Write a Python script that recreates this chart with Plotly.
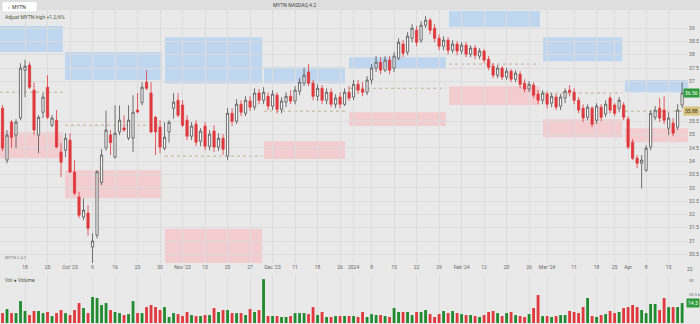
import plotly.graph_objects as go

# ---------------- data ----------------
opens = [35.99,34.04,35.47,34.98,35.62,37.42,37.61,36.67,34.98,35.84,
         36.78,35.35,35.54,34.34,34.41,34.79,33.59,32.65,31.90,32.05,
         30.77,31.22,33.20,34.50,34.98,34.15,35.10,35.25,34.87,34.87,
         35.92,36.20,36.97,36.56,35.65,35.28,34.49,35.10,35.99,36.29,
         36.11,35.54,34.94,35.39,34.75,35.32,34.56,35.13,34.53,34.86,
         34.19,35.80,35.50,36.14,35.80,36.26,36.03,36.56,36.29,36.44,
         36.07,36.48,35.95,36.22,36.44,36.26,36.63,36.93,37.35,36.93,
         36.44,36.74,36.29,36.59,36.14,36.41,36.14,36.59,36.41,36.89,
         36.71,36.59,37.05,37.50,37.72,37.42,37.80,37.50,37.87,38.40,
         38.10,38.62,38.92,38.55,39.11,39.30,39.00,38.62,38.32,38.55,
         38.17,38.40,38.14,38.36,38.02,38.25,37.95,38.14,37.83,37.57,
         37.23,37.50,37.16,37.38,37.08,37.27,36.93,36.71,36.86,36.52,
         36.29,36.52,36.18,36.41,36.07,36.37,36.67,36.59,36.29,35.99,
         35.65,35.99,35.54,36.03,35.77,36.37,36.11,35.99,36.11,35.58,
         34.71,34.11,33.92,33.66,34.53,35.65,35.99,35.92,35.24,35.43,
         35.28,36.11]
highs = [36.11,35.17,35.54,35.58,37.68,37.80,37.72,36.97,35.73,36.56,
         37.23,35.73,35.92,34.68,35.05,35.05,34.04,32.84,32.60,32.35,
         31.29,33.66,34.45,35.90,35.17,36.10,36.10,35.73,36.10,36.48,
         36.56,36.97,37.42,36.97,35.70,35.54,35.46,35.54,36.56,36.56,
         36.29,35.73,35.47,35.54,35.24,35.47,35.17,35.35,35.05,35.02,
         35.99,35.99,36.33,36.29,36.44,36.44,36.74,36.71,36.78,36.59,
         36.67,36.59,36.41,36.59,36.67,36.82,37.12,37.50,37.65,37.05,
         36.89,36.86,36.74,36.74,36.52,36.59,36.74,36.82,37.05,37.05,
         36.97,37.20,37.65,37.95,37.91,37.95,37.95,38.10,38.62,38.55,
         38.85,39.15,39.08,39.26,39.45,39.38,39.15,38.77,38.70,38.66,
         38.55,38.51,38.47,38.47,38.36,38.36,38.25,38.21,37.95,37.68,
         37.61,37.57,37.50,37.46,37.42,37.38,37.08,37.01,36.97,36.67,
         36.67,36.63,36.56,36.52,36.52,36.74,36.86,36.74,36.41,36.14,
         36.14,36.07,36.18,36.14,36.29,36.48,36.18,36.41,36.22,35.69,
         34.83,34.23,34.23,34.60,35.92,36.07,36.37,36.44,35.84,35.62,
         36.14,36.97]
lows = [34.38,33.92,34.49,34.49,35.54,36.41,36.71,34.98,34.30,35.62,
        35.58,35.28,34.49,33.40,34.15,33.55,32.72,31.86,31.78,31.20,
        30.10,31.10,33.10,34.40,34.23,34.10,34.98,35.10,34.79,34.34,
        35.80,36.10,36.67,35.05,34.23,34.30,34.41,34.70,35.60,35.65,
        35.28,34.79,34.79,34.56,34.56,34.41,34.41,34.34,34.38,34.23,
        34.04,35.32,35.39,35.69,35.69,35.88,35.92,36.14,36.14,35.92,
        35.92,35.80,35.80,36.03,36.14,36.14,36.48,36.82,36.82,36.29,
        36.26,36.14,36.14,36.03,35.99,35.99,36.07,36.26,36.29,36.52,
        36.44,36.48,36.89,37.35,37.27,37.35,37.27,37.35,37.80,37.91,
        37.98,38.47,38.32,38.44,39.00,38.77,38.47,38.17,38.17,38.02,
        38.06,37.98,38.02,37.91,37.91,37.83,37.83,37.68,37.42,37.12,
        37.12,37.05,37.05,36.97,36.97,36.74,36.59,36.59,36.37,36.14,
        36.14,35.99,36.03,35.92,35.92,36.18,36.44,36.14,35.80,35.47,
        35.54,35.28,35.39,35.50,35.65,35.80,35.69,35.84,35.54,34.45,
        34.04,33.74,32.98,33.59,34.41,35.54,35.47,35.39,34.98,34.94,
        35.17,35.99]
closes = [34.49,34.98,34.90,35.47,37.50,37.57,36.78,35.17,35.65,36.41,
          35.65,35.62,34.53,33.96,34.86,33.59,32.80,31.97,32.16,31.48,
          31.00,33.60,34.23,35.17,34.70,35.05,35.54,35.17,35.54,35.84,
          35.85,36.78,36.74,35.10,35.10,34.53,34.90,35.46,36.22,35.73,
          35.35,34.94,35.32,34.71,35.13,34.56,35.02,34.53,34.86,34.45,
          35.80,35.50,36.14,35.84,36.29,36.03,36.56,36.29,36.59,36.07,
          36.52,35.95,36.26,36.44,36.26,36.67,36.97,37.23,36.93,36.44,
          36.74,36.29,36.59,36.14,36.37,36.14,36.59,36.37,36.89,36.67,
          36.59,37.05,37.50,37.72,37.42,37.80,37.42,37.95,38.47,38.06,
          38.70,39.00,38.47,39.11,39.30,38.92,38.62,38.32,38.55,38.17,
          38.40,38.14,38.36,38.02,38.25,37.98,38.14,37.80,37.53,37.23,
          37.50,37.16,37.38,37.08,37.31,36.89,36.71,36.89,36.48,36.29,
          36.56,36.14,36.44,36.03,36.41,36.63,36.59,36.29,35.92,35.62,
          36.03,35.39,36.07,35.65,36.14,35.92,35.80,36.29,35.65,34.53,
          34.11,33.92,34.04,34.49,35.80,35.92,35.62,35.54,35.62,35.05,
          35.92,36.56]
volumes = [7.1,10.0,7.1,7.1,15.7,8.6,5.7,8.6,8.6,7.1,
           7.9,5.0,7.1,9.3,7.1,5.7,9.3,14.3,10.7,7.1,
           18.6,17.9,12.9,14.3,9.3,7.9,7.1,5.7,6.4,15.7,
           7.1,7.1,11.4,12.9,11.4,9.3,11.4,4.3,7.1,6.4,
           5.0,7.9,5.7,5.0,5.0,5.7,5.7,10.7,7.9,9.3,
           9.3,7.1,7.1,7.1,5.7,10.0,7.9,9.3,31.4,5.0,
           5.0,5.0,4.3,4.3,5.0,7.1,7.1,7.1,6.4,11.4,
           5.7,7.9,4.3,4.3,5.0,5.0,5.0,5.0,
           5.0,4.3,7.9,4.3,6.4,5.7,5.7,5.0,4.3,10.7,
           7.9,7.9,7.9,5.7,7.9,7.9,9.3,6.4,4.3,6.4,
           8.6,7.1,8.6,7.1,6.4,5.7,5.7,5.0,4.3,5.7,
           7.9,8.6,7.1,5.0,7.1,7.9,5.7,5.0,4.3,6.4,
           10.7,20.0,5.0,5.0,4.3,5.0,5.7,5.7,8.6,7.9,
           7.1,11.4,17.9,5.0,4.3,5.7,6.4,8.6,7.1,7.9,
           10.7,11.4,12.9,11.4,9.3,7.1,13.6,13.6,9.3,17.9,
           11.4,11.4,11.4,14.3]

tick_idx = [5,10,15,20,25,30,35,40,45,50,55,60,65,70,75,78,82,87,92,97,
            102,107,112,117,121,127,132,136,139,143,148]
tick_text = ["18","25","Oct '23","9","16","23","30","Nov '23","13","20","27",
             "Dec '23","11","18","26","2024","8","15","22","29","Feb '24","12",
             "20","26","Mar '24","11","18","25","Apr","8","15"]
price_ticks = [30.5,31,31.5,32,32.5,33,33.5,34,34.5,35,35.5,37,37.5,38,38.5,39]
vol_ticks = [20, 30]
vol_tick_text = ["20.5 k", "30"]

# monthly zones: start/end index, supply (blue) and demand (pink) price bands, pivot
zone_start = [-0.56, 13.9, 36.1, 58.1, 77.0, 99.2, 120.1, 138.3]
zone_end = [13.4, 35.4, 57.7, 76.1, 98.5, 119.4, 137.7, 152.3]
blue_lo = [38.10, 37.05, 36.93, 36.93, 37.46, 39.04, 37.76, 36.59]
blue_hi = [39.08, 38.10, 38.66, 37.53, 37.91, 39.64, 38.66, 37.05]
pink_lo = [34.11, 32.61, 30.10, 34.08, 35.32, 36.11, 34.90, 34.71]
pink_hi = [35.09, 33.66, 31.45, 34.75, 35.84, 36.82, 35.58, 35.24]
pivot = [36.59, 35.35, 34.19, 35.88, 36.74, 37.65, 36.56, 35.88]

last_price = 36.56
ref_price = 35.88
last_volume = 14.3

# ---------------- figure ----------------
BG = "#e9e9e9"
GRID = "#dcdcdc"
RED = "#e0383c"
GREEN = "#1f8a2e"

idx = list(range(len(closes)))
vol_colors = [GREEN if c >= o else RED for o, c in zip(opens, closes)]

fig = go.Figure()
fig.add_trace(go.Candlestick(
    x=idx, open=opens, high=highs, low=lows, close=closes,
    increasing=dict(line=dict(color="#505050", width=0.8), fillcolor="#f6f6f6"),
    decreasing=dict(line=dict(color=RED, width=0.8), fillcolor=RED),
    whiskerwidth=0, showlegend=False, xaxis="x", yaxis="y"))
fig.add_trace(go.Bar(x=idx, y=volumes, marker=dict(color=vol_colors, line=dict(width=0)),
                     width=0.62, showlegend=False, xaxis="x2", yaxis="y2"))

shapes = []
for i in range(len(zone_start)):
    shapes.append(dict(type="rect", xref="x", yref="y", x0=zone_start[i], x1=zone_end[i],
                       y0=blue_lo[i], y1=blue_hi[i], fillcolor="#bcd5ef", line=dict(width=0),
                       layer="below", opacity=0.95))
    shapes.append(dict(type="rect", xref="x", yref="y", x0=zone_start[i], x1=zone_end[i],
                       y0=pink_lo[i], y1=pink_hi[i], fillcolor="#f2cacd", line=dict(width=0),
                       layer="below", opacity=0.95))
    shapes.append(dict(type="line", xref="x", yref="y", x0=zone_start[i], x1=zone_end[i],
                       y0=pivot[i], y1=pivot[i], line=dict(color="#b09a6a", width=0.7, dash="dot"),
                       layer="below"))
# top toolbar
shapes.append(dict(type="rect", xref="paper", yref="paper", x0=0, x1=1, y0=0.969, y1=1,
                   fillcolor="#dedede", line=dict(width=0), layer="below"))
shapes.append(dict(type="rect", xref="paper", yref="paper", x0=0.003, x1=0.053, y0=0.963, y1=0.995,
                   fillcolor="#ffffff", line=dict(color="#cfcfcf", width=0.5)))
fig.update_layout(shapes=shapes)

ann = [
    dict(x=0.008, y=0.979, xref="paper", yref="paper", text="‹  MYTN", showarrow=False,
         font=dict(size=5, color="#333"), xanchor="left", yanchor="middle"),
    dict(x=0.42, y=0.985, xref="paper", yref="paper", text="MYTN NASDAQ 4.2", showarrow=False,
         font=dict(size=5, color="#444"), xanchor="center", yanchor="middle"),
    dict(x=0.004, y=0.947, xref="paper", yref="paper", text="Adjust MYTN high +1.2/6%", showarrow=False,
         font=dict(size=5, color="#4a5a3a"), xanchor="left", yanchor="middle"),
    dict(x=0.004, y=0.205, xref="paper", yref="paper", text="MYTN 2.4.2", showarrow=False,
         font=dict(size=4, color="#777"), xanchor="left", yanchor="middle"),
    dict(x=0.004, y=0.135, xref="paper", yref="paper", text="Vol ● Volume", showarrow=False,
         font=dict(size=5, color="#4a5a3a"), xanchor="left", yanchor="middle"),
    dict(x=690 / 700, y=0.170, xref="paper", yref="paper", text="22", showarrow=False,
         font=dict(size=5, color="#666"), xanchor="center", yanchor="middle"),
    dict(x=1.0, y=last_price, xref="paper", yref="y", text=f"{last_price:.2f}", showarrow=False,
         font=dict(size=5, color="#ffffff"), bgcolor="#2e9a3c", xanchor="right", yanchor="middle",
         borderpad=1),
    dict(x=1.0, y=ref_price, xref="paper", yref="y", text=f"{ref_price:.2f}", showarrow=False,
         font=dict(size=5, color="#333"), bgcolor="#d8c27a", xanchor="right", yanchor="middle",
         borderpad=1),
    dict(x=1.0, y=last_volume, xref="paper", yref="y2", text=f"{last_volume:.1f}", showarrow=False,
         font=dict(size=5, color="#ffffff"), bgcolor="#2e9a3c", xanchor="right", yanchor="middle",
         borderpad=1),
]
fig.update_layout(annotations=ann)

fig.update_layout(
    width=700, height=324, margin=dict(l=0, r=0, t=0, b=0),
    paper_bgcolor=BG, plot_bgcolor=BG,
    font=dict(family="Roboto, Arial, sans-serif", size=5, color="#666"),
    xaxis=dict(domain=[0, 0.983], range=[-0.56, 152.33], tickmode="array", tickvals=tick_idx,
               ticktext=tick_text, showgrid=True, gridcolor=GRID, gridwidth=0.6,
               rangeslider=dict(visible=False), zeroline=False, showline=False,
               ticks="", tickfont=dict(size=5, color="#666"), anchor="y"),
    yaxis=dict(domain=[0.188, 0.969], range=[30.17, 39.68], side="right", tickmode="array",
               tickvals=price_ticks, showgrid=True, gridcolor=GRID, gridwidth=0.6, zeroline=False,
               ticks="", tickfont=dict(size=5, color="#666"), anchor="x"),
    xaxis2=dict(domain=[0, 0.983], range=[-0.56, 152.33], matches="x", tickmode="array",
                tickvals=tick_idx, showticklabels=False, showgrid=True, gridcolor=GRID,
                gridwidth=0.6, zeroline=False, anchor="y2"),
    yaxis2=dict(domain=[0.003, 0.148], range=[0, 33.6], side="right", tickmode="array",
                tickvals=vol_ticks, ticktext=vol_tick_text, showgrid=False, zeroline=False,
                ticks="", tickfont=dict(size=4, color="#666"), anchor="x2"),
    bargap=0.3,
)

fig.write_html("out.html")
